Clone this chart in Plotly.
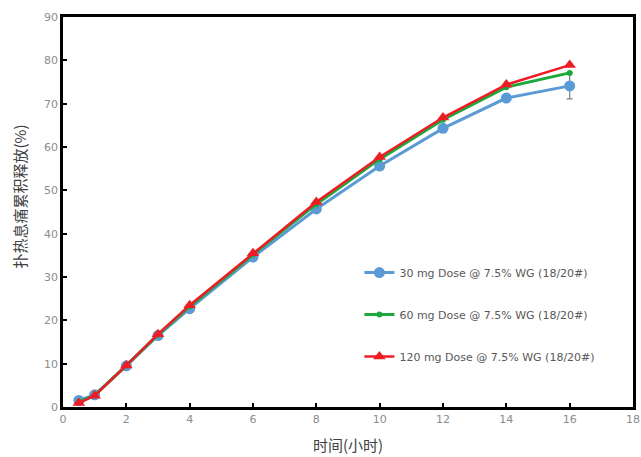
import plotly.graph_objects as go

time_h = [0.5, 1, 2, 3, 4, 6, 8, 10, 12, 14, 16]
dose30 = [1.5, 2.8, 9.5, 16.5, 22.7, 34.6, 45.7, 55.6, 64.3, 71.3, 74.1]
dose60 = [1.2, 2.7, 9.6, 16.7, 23.2, 35.2, 46.8, 57.2, 66.3, 73.8, 77.1]
dose120 = [0.9, 2.6, 9.6, 16.8, 23.5, 35.5, 47.3, 57.7, 66.8, 74.4, 78.9]
err30 = [0.3, 0.3, 0.4, 0.4, 0.4, 0.5, 0.5, 0.6, 0.6, 0.8, 3.0]

names = ["30 mg Dose @ 7.5% WG (18/20#)",
         "60 mg Dose @ 7.5% WG (18/20#)",
         "120 mg Dose @ 7.5% WG (18/20#)"]
x_ticks = [0, 2, 4, 6, 8, 10, 12, 14, 16, 18]
y_ticks = [0, 10, 20, 30, 40, 50, 60, 70, 80, 90]
x_title = "时间(小时)"
y_title = "扑热息痛累积释放(%)"

fig = go.Figure()
fig.add_trace(go.Scatter(
    x=time_h, y=dose30, name=names[0], mode="lines+markers",
    line=dict(color="#5b9bd5", width=3),
    marker=dict(symbol="circle", size=11, color="#5b9bd5"),
    error_y=dict(type="data", array=err30, color="#7f7f7f", thickness=1.2, width=3),
    legendgroup="a"))
fig.add_trace(go.Scatter(
    x=time_h, y=dose60, name=names[1], mode="lines+markers",
    line=dict(color="#1ea83c", width=3),
    marker=dict(symbol="circle", size=6, color="#1ea83c"),
    legendgroup="b"))
fig.add_trace(go.Scatter(
    x=time_h, y=dose120, name=names[2], mode="lines+markers",
    line=dict(color="#ee1c25", width=2.5),
    marker=dict(symbol="triangle-up", size=11, color="#ee1c25"),
    legendgroup="c"))

tick_font = dict(family="DejaVu Sans", size=11, color="#8c8c8c")
title_font = dict(family="Noto Sans CJK SC", size=15, color="#404040")

fig.update_layout(
    width=641, height=457,
    margin=dict(l=63, r=8, t=17, b=50),
    paper_bgcolor="white", plot_bgcolor="white",
    showlegend=True,
    legend=dict(x=0.52, y=0.382, xanchor="left", yanchor="top",
                font=dict(family="DejaVu Sans", size=11, color="#595959"),
                bgcolor="rgba(0,0,0,0)", tracegroupgap=23,
                itemwidth=30),
    xaxis=dict(range=[0, 18], tickvals=x_ticks, ticks="inside", ticklen=4,
               tickcolor="black", tickwidth=2, automargin=False,
               ticklabeloverflow="allow",
               showline=True, linecolor="black", linewidth=2.5, mirror=True,
               showgrid=False, zeroline=False, tickfont=tick_font,
               title=dict(text=x_title, font=title_font, standoff=16)),
    yaxis=dict(range=[0, 90], tickvals=y_ticks, ticks="inside", ticklen=4,
               tickcolor="black", tickwidth=2, automargin=False,
               ticklabeloverflow="allow",
               showline=True, linecolor="black", linewidth=2.5, mirror=True,
               showgrid=False, zeroline=False, tickfont=tick_font),
    annotations=[dict(text=y_title, textangle=-90, xref="paper", yref="paper",
                      x=-0.077, y=0.54, showarrow=False, font=title_font,
                      xanchor="center", yanchor="middle")],
)

fig.write_html("out.html",
               config={"displayModeBar": False},
               post_script="document.body.style.margin='0';"
                           "document.body.style.overflow='hidden';")
